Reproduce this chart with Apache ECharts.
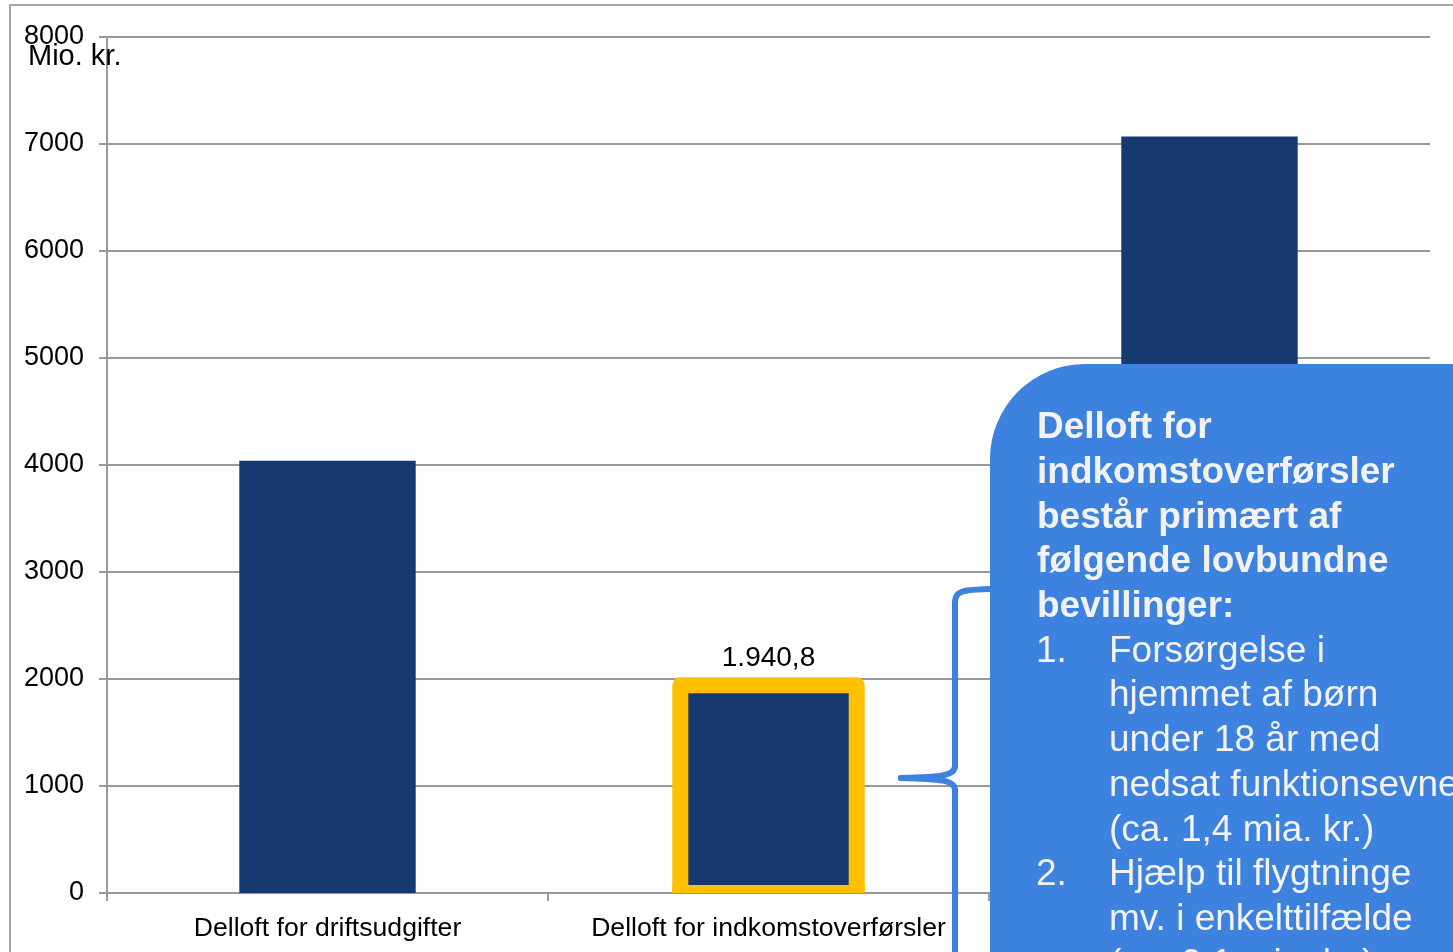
<!DOCTYPE html>
<html>
<head>
<meta charset="utf-8">
<script src="https://cdn.jsdelivr.net/npm/echarts@6/dist/echarts.min.js"></script>
<style>
html,body{margin:0;padding:0;background:#fff;}
#chart{width:1453px;height:952px;}
</style>
</head>
<body>
<div id="chart"></div>
<script>
// ---- data ----
const categories = ['Delloft for driftsudgifter', 'Delloft for indkomstoverførsler', 'Samlet udgiftsloft'];
const values = [4040, 1940.8, 7070];
const highlightIndex = 1;
const yMin = 0, yMax = 8000, yInterval = 1000;
const yAxisName = 'Mio. kr.';
const calloutTitle = ['Delloft for', 'indkomstoverførsler', 'består primært af', 'følgende lovbundne', 'bevillinger:'];
const calloutItemNumbers = ['1.', '2.'];
const calloutItem1 = ['Forsørgelse i', 'hjemmet af børn', 'under 18 år med', 'nedsat funktionsevne', '(ca. 1,4 mia. kr.)'];
const calloutItem2 = ['Hjælp til flygtninge', 'mv. i enkelttilfælde', '(ca. 0,1 mia. kr.)'];

// ---- helpers ----
const FONT = "'Liberation Sans', Arial, sans-serif";
function daNumber(v) {
  const parts = v.toFixed(1).split('.');
  const intPart = parts[0].replace(/\B(?=(\d{3})+(?!\d))/g, '.');
  return intPart + ',' + parts[1];
}
const BAR = '#163A70';
const GRID = '#999999';
const CALLOUT = '#3D82DE';
const CALLOUT_TEXT = '#F2F2F2';
const HIGHLIGHT = '#FFC000';
const FRAME_W = 16;

const seriesData = values.map((v, i) => {
  if (i === highlightIndex) {
    return { value: v, label: { show: true } };
  }
  return v;
});

// callout text elements
const textEls = [];
const lineStep = 44.7;
const firstY = 428;
let row = 0;
calloutTitle.forEach(t => {
  textEls.push({ type: 'text', x: 1037, y: firstY + lineStep * row, z: 102,
    style: { text: t, fill: CALLOUT_TEXT, font: 'bold 37px ' + FONT, verticalAlign: 'middle', textVerticalAlign: 'middle' } });
  row++;
});
[calloutItem1, calloutItem2].forEach((lines, k) => {
  textEls.push({ type: 'text', x: 1036, y: firstY + lineStep * row, z: 102,
    style: { text: calloutItemNumbers[k], fill: CALLOUT_TEXT, font: '37px ' + FONT, verticalAlign: 'middle', textVerticalAlign: 'middle' } });
  lines.forEach(t => {
    textEls.push({ type: 'text', x: 1109, y: firstY + lineStep * row, z: 102,
      style: { text: t, fill: CALLOUT_TEXT, font: '37px ' + FONT, verticalAlign: 'middle', textVerticalAlign: 'middle' } });
    row++;
  });
});

const braceStyle = { stroke: CALLOUT, lineWidth: 6, lineCap: 'round', fill: 'none' };
const brace = [
  { type: 'bezierCurve', z: 60, shape: { x1: 990, y1: 589, cpx1: 968, cpy1: 590, cpx2: 955, cpy2: 589, x2: 955, y2: 602 }, style: braceStyle },
  { type: 'line', z: 60, shape: { x1: 955, y1: 602, x2: 955, y2: 766 }, style: braceStyle },
  { type: 'bezierCurve', z: 60, shape: { x1: 955, y1: 766, cpx1: 955, cpy1: 776, cpx2: 940, cpy2: 777, x2: 901, y2: 778 }, style: braceStyle },
  { type: 'bezierCurve', z: 60, shape: { x1: 901, y1: 778, cpx1: 940, cpy1: 779, cpx2: 955, cpy2: 780, x2: 955, y2: 790 }, style: braceStyle },
  { type: 'line', z: 60, shape: { x1: 955, y1: 790, x2: 955, y2: 970 }, style: braceStyle }
];

const staticGraphics = [
  { type: 'rect', z: 1, shape: { x: 10, y: 5, width: 1500, height: 1000 },
    style: { fill: 'none', stroke: '#A6A6A6', lineWidth: 2 } },
  { type: 'text', x: 28, y: 57, z: 5,
    style: { text: yAxisName, fill: '#000', font: '29px ' + FONT, verticalAlign: 'middle', textVerticalAlign: 'middle' } }
].concat(brace).concat([
  { type: 'rect', z: 100, shape: { x: 990, y: 364, width: 560, height: 700, r: 95 },
    style: { fill: CALLOUT } }
]).concat(textEls);

const chart = echarts.init(document.getElementById('chart'), null, { renderer: 'canvas' });
chart.setOption({
  animation: false,
  backgroundColor: '#fff',
  textStyle: { fontFamily: FONT },
  grid: { left: 107, right: 23, top: 37, bottom: 59, containLabel: false },
  xAxis: {
    type: 'category',
    data: categories,
    axisLine: { show: true, lineStyle: { color: GRID, width: 2 } },
    axisTick: { show: true, length: 8, alignWithLabel: false, lineStyle: { color: GRID, width: 2 } },
    axisLabel: { color: '#000', fontSize: 26.6, fontFamily: FONT, margin: 22, interval: 0 },
    splitLine: { show: false }
  },
  yAxis: {
    type: 'value',
    min: yMin, max: yMax, interval: yInterval,
    axisLine: { show: true, lineStyle: { color: GRID, width: 2 } },
    axisTick: { show: true, length: 8, inside: false, lineStyle: { color: GRID, width: 2 } },
    axisLabel: { color: '#000', fontSize: 27, fontFamily: FONT, margin: 23, formatter: v => String(v) },
    splitLine: { show: true, lineStyle: { color: GRID, width: 2 } }
  },
  series: [{
    type: 'bar',
    data: seriesData,
    barWidth: '40%',
    itemStyle: { color: BAR },
    label: {
      show: false,
      position: 'top',
      distance: 13,
      color: '#000',
      fontSize: 28,
      fontFamily: FONT,
      formatter: p => daNumber(p.value)
    }
  }],
  graphic: staticGraphics
});

// highlight frame around the highlighted bar, from the library's own bar layout
(function () {
  let lay = null;
  try {
    lay = chart.getModel().getSeriesByIndex(0).getData().getItemLayout(highlightIndex);
  } catch (e) { lay = null; }
  let x, y, w, h;
  if (lay && isFinite(lay.x)) {
    x = Math.min(lay.x, lay.x + lay.width); w = Math.abs(lay.width);
    y = Math.min(lay.y, lay.y + lay.height); h = Math.abs(lay.height);
  } else {
    const cx = chart.convertToPixel({ xAxisIndex: 0 }, highlightIndex);
    const cx2 = chart.convertToPixel({ xAxisIndex: 0 }, highlightIndex + 1);
    const top = chart.convertToPixel({ yAxisIndex: 0 }, values[highlightIndex]);
    const base = chart.convertToPixel({ yAxisIndex: 0 }, 0);
    w = Math.abs(cx2 - cx) * 0.4; x = cx - w / 2; y = top; h = base - top;
  }
  const base = y + h;
  const half = FRAME_W / 2;
  chart.setOption({
    graphic: staticGraphics.concat([
      { type: 'polyline', z: 50,
        shape: { points: [[x, base], [x, y], [x + w, y], [x + w, base]] },
        style: { fill: 'none', stroke: HIGHLIGHT, lineWidth: FRAME_W, lineJoin: 'round', lineCap: 'butt' } },
      { type: 'line', z: 50,
        shape: { x1: x - half, y1: base - half / 2, x2: x + w + half, y2: base - half / 2 },
        style: { stroke: HIGHLIGHT, lineWidth: half, lineCap: 'butt' } }
    ])
  }, { replaceMerge: ['graphic'] });
})();
</script>
</body>
</html>
